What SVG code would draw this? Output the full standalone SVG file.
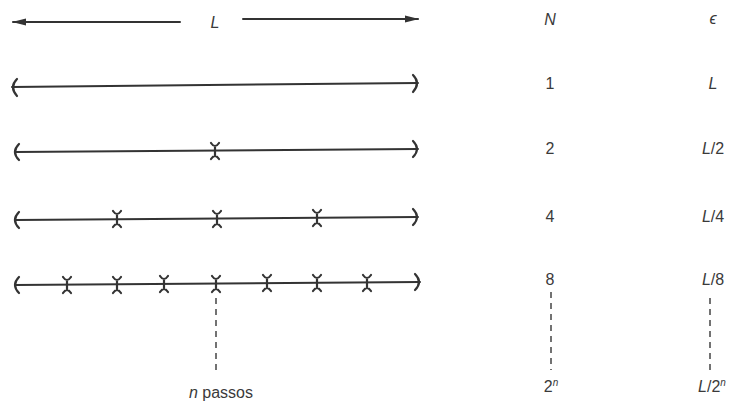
<svg xmlns="http://www.w3.org/2000/svg" width="734" height="407" viewBox="0 0 734 407">
<style>
.ln{stroke:#333;stroke-width:2;fill:none;stroke-linecap:round}
.br{stroke:#333;stroke-width:2.2;fill:none;stroke-linecap:round}
.mk{stroke:#333;stroke-width:2.2;fill:none;stroke-linecap:round}
.ds{stroke:#444;stroke-width:1.5;fill:none;stroke-dasharray:6,5}
text{font-family:"Liberation Sans",Arial,sans-serif;font-size:16px;fill:#3a3a3a;text-anchor:middle}
.it{font-style:italic}
</style>
<defs>
<marker id="ah" markerWidth="14" markerHeight="8" refX="13" refY="4" orient="auto" markerUnits="userSpaceOnUse">
<path d="M0,0.5 L14,4 L0,7.5 Z" fill="#333"/>
</marker>
<g id="xm"><path class="mk" d="M-4,-8 Q0,-2 4,-8 M-4,8 Q0,2 4,8 M0,-4 L0,4"/></g>
</defs>
<g id="connectors">
<line class="ln" x1="180" y1="22" x2="13" y2="22" marker-end="url(#ah)"/>
<line class="ln" x1="243" y1="19" x2="418" y2="19" marker-end="url(#ah)"/>
<line class="ds" x1="216" y1="298" x2="216" y2="372"/>
<line class="ds" x1="551" y1="292" x2="551" y2="370"/>
<line class="ds" x1="710" y1="298" x2="710" y2="370"/>
</g>
<g id="row1">
<line class="ln" x1="12" y1="87" x2="418" y2="83"/>
<path class="br" d="M17,79 Q9,87 17,96"/>
<path class="br" d="M413,75 Q421,83 413,92"/>
</g>
<g id="row2">
<line class="ln" x1="15" y1="152" x2="418" y2="149"/>
<path class="br" d="M19,144 Q11,152 19,160"/>
<path class="br" d="M413,141 Q421,149 413,157"/>
<use href="#xm" x="215" y="151"/>
</g>
<g id="row3">
<line class="ln" x1="15" y1="220" x2="418" y2="217"/>
<path class="br" d="M19,212 Q11,220 19,228"/>
<path class="br" d="M413,209 Q421,217 413,225"/>
<use href="#xm" x="117" y="219"/>
<use href="#xm" x="217" y="219"/>
<use href="#xm" x="317" y="218"/>
</g>
<g id="row4">
<line class="ln" x1="15" y1="285" x2="420" y2="282"/>
<path class="br" d="M19,277 Q11,285 19,293"/>
<path class="br" d="M415,274 Q423,282 415,290"/>
<use href="#xm" x="67" y="285"/>
<use href="#xm" x="117" y="285"/>
<use href="#xm" x="164" y="284"/>
<use href="#xm" x="216" y="284"/>
<use href="#xm" x="267" y="283"/>
<use href="#xm" x="317" y="283"/>
<use href="#xm" x="367" y="283"/>
</g>
<g id="labels">
<text class="it" x="215" y="28">L</text>
<text class="it" x="550" y="25">N</text>
<text class="it" x="713" y="24">ϵ</text>
<text x="550" y="89">1</text>
<text class="it" x="713" y="89">L</text>
<text x="550" y="154">2</text>
<text x="713" y="154"><tspan class="it">L</tspan>/2</text>
<text x="550" y="222">4</text>
<text x="713" y="222"><tspan class="it">L</tspan>/4</text>
<text x="550" y="285">8</text>
<text x="713" y="285"><tspan class="it">L</tspan>/8</text>
<text x="551" y="392">2<tspan class="it" font-size="10" dy="-6">n</tspan></text>
<text x="712" y="392"><tspan class="it">L</tspan>/2<tspan class="it" font-size="10" dy="-6">n</tspan></text>
<text x="221" y="398" font-size="17"><tspan class="it">n</tspan>  passos</text>
</g>
</svg>
